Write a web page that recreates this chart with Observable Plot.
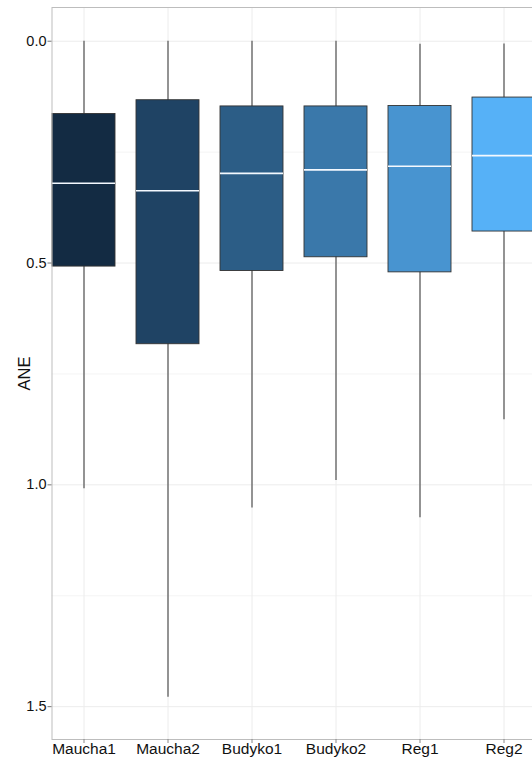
<!DOCTYPE html>
<html>
<head>
<meta charset="utf-8">
<script src="https://cdn.jsdelivr.net/npm/d3@7"></script>
<script src="https://cdn.jsdelivr.net/npm/@observablehq/plot@0.6"></script>
<style>
  html, body { margin: 0; padding: 0; background: white; overflow: hidden; width: 532px; height: 758px; }
  #chart svg { max-width: none !important; display: block; }
</style>
</head>
<body>
<div id="chart"></div>
<script>
const cats = ["Maucha1", "Maucha2", "Budyko1", "Budyko2", "Reg1", "Reg2"];
const whiskerLow  = [0.000, 0.000, 0.000, 0.000, 0.007, 0.006];
const q1          = [0.164, 0.133, 0.147, 0.147, 0.146, 0.127];
const median      = [0.320, 0.337, 0.298, 0.290, 0.282, 0.258];
const q3          = [0.508, 0.683, 0.518, 0.487, 0.521, 0.429];
const whiskerHigh = [1.009, 1.479, 1.052, 0.990, 1.074, 0.853];
const yTicks = [0, 0.5, 1.0, 1.5];
const yMinor = [0.25, 0.75, 1.25];
const yLabel = "ANE";

const rows = cats.map((c, i) => ({
  model: c, lo: whiskerLow[i], q1: q1[i], med: median[i], q3: q3[i], hi: whiskerHigh[i]
}));

const palette = d3.quantize(d3.interpolateLab("#132B43", "#56B1F7"), cats.length);
const font = "'Liberation Sans', Arial, Helvetica, sans-serif";

const chart = Plot.plot({
  width: 580,
  height: 758,
  marginLeft: 51.5,
  marginTop: 7,
  marginBottom: 19,
  marginRight: 21,
  style: { fontFamily: font, background: "white", color: "#111" },
  x: { domain: cats, range: [51.6, 539.8], paddingInner: 0.25, paddingOuter: 0, align: 0 },
  y: { domain: [-0.076, 1.574], reverse: true },
  color: { domain: cats, range: palette },
  marks: [
    Plot.gridY(yMinor, { stroke: "#f4f4f4", strokeOpacity: 1 }),
    Plot.gridY(yTicks, { stroke: "#ececec", strokeOpacity: 1 }),
    Plot.gridX(cats, { stroke: "#ececec", strokeOpacity: 1 }),
    Plot.ruleX(rows, { x: "model", y1: "lo", y2: "hi", stroke: "#5e5e5e", strokeWidth: 1.3 }),
    Plot.barY(rows, { x: "model", y1: "q1", y2: "q3", fill: "model", stroke: "#333", strokeWidth: 0.9 }),
    Plot.tickY(rows, { x: "model", y: "med", stroke: "#f4f9ff", strokeWidth: 1.6 }),
    Plot.frame({ stroke: "#bdbdbd", strokeWidth: 1 }),
    Plot.axisY(yTicks, { tickFormat: d3.format(".1f"), tickSize: 4, tickPadding: 1.5, fontSize: 14.5, stroke: "#777", fill: "#111", label: null }),
    Plot.axisY({ ticks: [], label: yLabel, labelAnchor: "center", labelArrow: "none", labelOffset: 34, fontSize: 16.5, fill: "#111" }),
    Plot.axisX({ tickSize: 4, tickPadding: -0.5, fontSize: 15.5, stroke: "#888", fill: "#111", label: null })
  ]
});
document.getElementById("chart").appendChild(chart);
chart.style.maxWidth = "none";
</script>
</body>
</html>
